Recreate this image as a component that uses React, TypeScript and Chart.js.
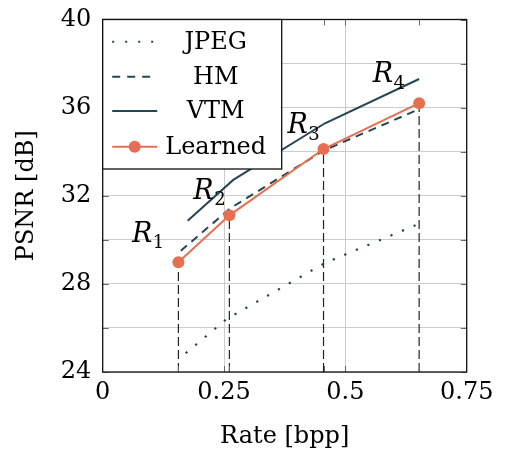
import React, { useEffect, useRef } from 'react';
import { Chart, registerables } from 'chart.js';
Chart.register(...registerables);

// ---- data ----
const jpegRate = [0.171, 0.255, 0.458, 0.652];
const jpegPsnr = [24.85, 26.4, 28.95, 30.73];
const hmRate = [0.161, 0.262, 0.455, 0.652];
const hmPsnr = [29.5, 31.42, 34.05, 35.93];
const vtmRate = [0.175, 0.269, 0.458, 0.652];
const vtmPsnr = [30.87, 32.72, 35.29, 37.3];
const learnedRate = [0.156, 0.261, 0.455, 0.652];
const learnedPsnr = [28.98, 31.11, 34.12, 36.2];
const pointSubs = ['1', '2', '3', '4'];
const xTickValues = [0, 0.25, 0.5, 0.75];
const yMin = 24;
const yMax = 40;
const seriesNames = ['JPEG', 'HM', 'VTM', 'Learned'];

const DARK = '#264653';
const CORAL = '#e76f51';
const FONT = "'DejaVu Serif', serif";

const zip = (xs: number[], ys: number[]) => xs.map((x, i) => ({ x, y: ys[i] }));

const framePlugin = {
  id: 'framePlugin',
  afterDatasetsDraw(chart: any) {
    const { ctx, chartArea: a, scales } = chart;
    const xs = scales.x, ys = scales.y;
    ctx.save();
    ctx.strokeStyle = '#666';
    ctx.lineWidth = 1;
    const tl = 6;
    for (let v = yMin; v <= yMax; v += 2) {
      const py = Math.round(ys.getPixelForValue(v)) + 0.5;
      ctx.beginPath();
      ctx.moveTo(a.left, py); ctx.lineTo(a.left + tl, py);
      ctx.moveTo(a.right, py); ctx.lineTo(a.right - tl, py);
      ctx.stroke();
    }
    const xt = [0.25, 0.5, ...learnedRate];
    xt.forEach((v) => {
      const px = Math.round(xs.getPixelForValue(v)) + 0.5;
      ctx.beginPath();
      ctx.moveTo(px, a.bottom); ctx.lineTo(px, a.bottom - tl);
      ctx.moveTo(px, a.top); ctx.lineTo(px, a.top + tl);
      ctx.stroke();
    });
    ctx.strokeStyle = '#111';
    ctx.lineWidth = 1.3;
    ctx.strokeRect(a.left, a.top, a.right - a.left, a.bottom - a.top);
    // R labels
    const offs = [[-46.5, -20.5], [-36, -16.7], [-36, -16], [-46.5, -21]];
    ctx.fillStyle = '#000';
    ctx.textBaseline = 'alphabetic';
    ctx.textAlign = 'left';
    learnedRate.forEach((r, i) => {
      const px = xs.getPixelForValue(r) + offs[i][0];
      const py = ys.getPixelForValue(learnedPsnr[i]) + offs[i][1];
      ctx.font = `italic 27px ${FONT}`;
      ctx.fillText('R', px, py);
      const w = ctx.measureText('R').width;
      ctx.font = `18px ${FONT}`;
      ctx.fillText(pointSubs[i], px + w + 0.5, py + 6.5);
    });
    ctx.restore();
  },
  afterDraw(chart: any) {
    const { ctx, chartArea: a } = chart;
    ctx.save();
    const bw = 179, bh = 149.5;
    ctx.fillStyle = '#fff';
    ctx.fillRect(a.left, a.top, bw, bh);
    ctx.strokeStyle = '#111';
    ctx.lineWidth = 1.3;
    ctx.strokeRect(a.left, a.top, bw, bh);
    const rows = [22.2, 57.2, 91.5, 127.2];
    const x0 = a.left + 9.5, x1 = a.left + 54.5;
    const styles = [
      { color: DARK, dash: [2, 11], w: 2 },
      { color: DARK, dash: [8, 7], w: 2 },
      { color: DARK, dash: [], w: 2 },
      { color: CORAL, dash: [], w: 2 },
    ];
    rows.forEach((ry, i) => {
      const y = a.top + ry;
      const s = styles[i];
      ctx.strokeStyle = s.color;
      ctx.lineWidth = s.w;
      ctx.setLineDash(s.dash);
      ctx.lineCap = 'butt';
      ctx.beginPath();
      ctx.moveTo(x0, y); ctx.lineTo(x1, y);
      ctx.stroke();
      ctx.setLineDash([]);
      if (i === 3) {
        ctx.fillStyle = CORAL;
        ctx.beginPath();
        ctx.arc((x0 + x1) / 2, y, 6, 0, Math.PI * 2);
        ctx.fill();
      }
      ctx.fillStyle = '#000';
      ctx.font = `24px ${FONT}`;
      ctx.textAlign = 'center';
      ctx.textBaseline = 'middle';
      ctx.fillText(seriesNames[i], a.left + 113, y + 1);
    });
    ctx.restore();
  },
};

export default function App() {
  const ref = useRef<HTMLCanvasElement | null>(null);
  useEffect(() => {
    if (!ref.current) return;
    const dropLines = learnedRate.map((r, i) => ({
      label: 'drop' + i,
      data: [{ x: r, y: yMin }, { x: r, y: learnedPsnr[i] }],
      showLine: true,
      borderColor: '#222',
      borderWidth: 1.2,
      borderDash: [9, 4],
      pointRadius: 0,
      order: 10,
    }));
    const chart = new Chart(ref.current, {
      type: 'scatter',
      data: {
        datasets: [
          {
            label: seriesNames[3],
            data: zip(learnedRate, learnedPsnr),
            showLine: true,
            borderColor: CORAL,
            backgroundColor: CORAL,
            borderWidth: 2,
            pointRadius: 6,
            pointBorderWidth: 0,
            order: 0,
          },
          {
            label: seriesNames[2],
            data: zip(vtmRate, vtmPsnr),
            showLine: true,
            borderColor: DARK,
            borderWidth: 2,
            pointRadius: 0,
            order: 1,
          },
          {
            label: seriesNames[1],
            data: zip(hmRate, hmPsnr),
            showLine: true,
            borderColor: DARK,
            borderWidth: 2,
            borderDash: [8, 6],
            pointRadius: 0,
            order: 2,
          },
          {
            label: seriesNames[0],
            data: zip(jpegRate, jpegPsnr),
            showLine: true,
            borderColor: DARK,
            borderWidth: 2.2,
            borderDash: [2.2, 10.3],
            pointRadius: 0,
            order: 3,
          },
          ...dropLines,
        ] as any,
      },
      options: {
        animation: false,
        responsive: true,
        maintainAspectRatio: false,
        layout: { padding: { left: 0, top: 19.5, right: 40.3, bottom: 0 } },
        plugins: { legend: { display: false }, tooltip: { enabled: false } },
        scales: {
          x: {
            type: 'linear',
            min: 0,
            max: 0.75,
            afterBuildTicks: (s: any) => {
              s.ticks = xTickValues.map((v) => ({ value: v }));
            },
            afterFit: (s: any) => {
              s.height = 85;
              s.paddingLeft = 0; s.paddingRight = 0;
            },
            grid: { color: '#cccccc', lineWidth: 1, drawTicks: false },
            border: { display: false },
            ticks: {
              padding: 6,
              color: '#000',
              font: { family: FONT, size: 24 },
              callback: (v: any) => String(v),
            },
            title: {
              display: true,
              text: 'Rate [bpp]',
              color: '#000',
              font: { family: FONT, size: 24, lineHeight: 1.2 },
              padding: { top: 0, bottom: 6 },
            },
          },
          y: {
            type: 'linear',
            min: yMin,
            max: yMax,
            afterFit: (s: any) => {
              s.width = 102.7;
              s.paddingTop = 0; s.paddingBottom = 0;
            },
            grid: { color: '#cccccc', lineWidth: 1, drawTicks: false },
            border: { display: false },
            ticks: {
              stepSize: 2,
              padding: 11.5,
              color: '#000',
              font: { family: FONT, size: 24 },
              callback: (v: any) => (Number(v) % 4 === 0 ? String(v) : ''),
            },
            title: {
              display: true,
              text: 'PSNR [dB]',
              color: '#000',
              font: { family: FONT, size: 24, lineHeight: 1.2 },
              padding: { top: 12.6, bottom: 0 },
            },
          },
        },
      } as any,
      plugins: [framePlugin],
    });
    return () => chart.destroy();
  }, []);
  return (
    <div style={{ position: 'absolute', left: 0, top: 0, width: 507, height: 457 }}>
      <canvas ref={ref} />
    </div>
  );
}
